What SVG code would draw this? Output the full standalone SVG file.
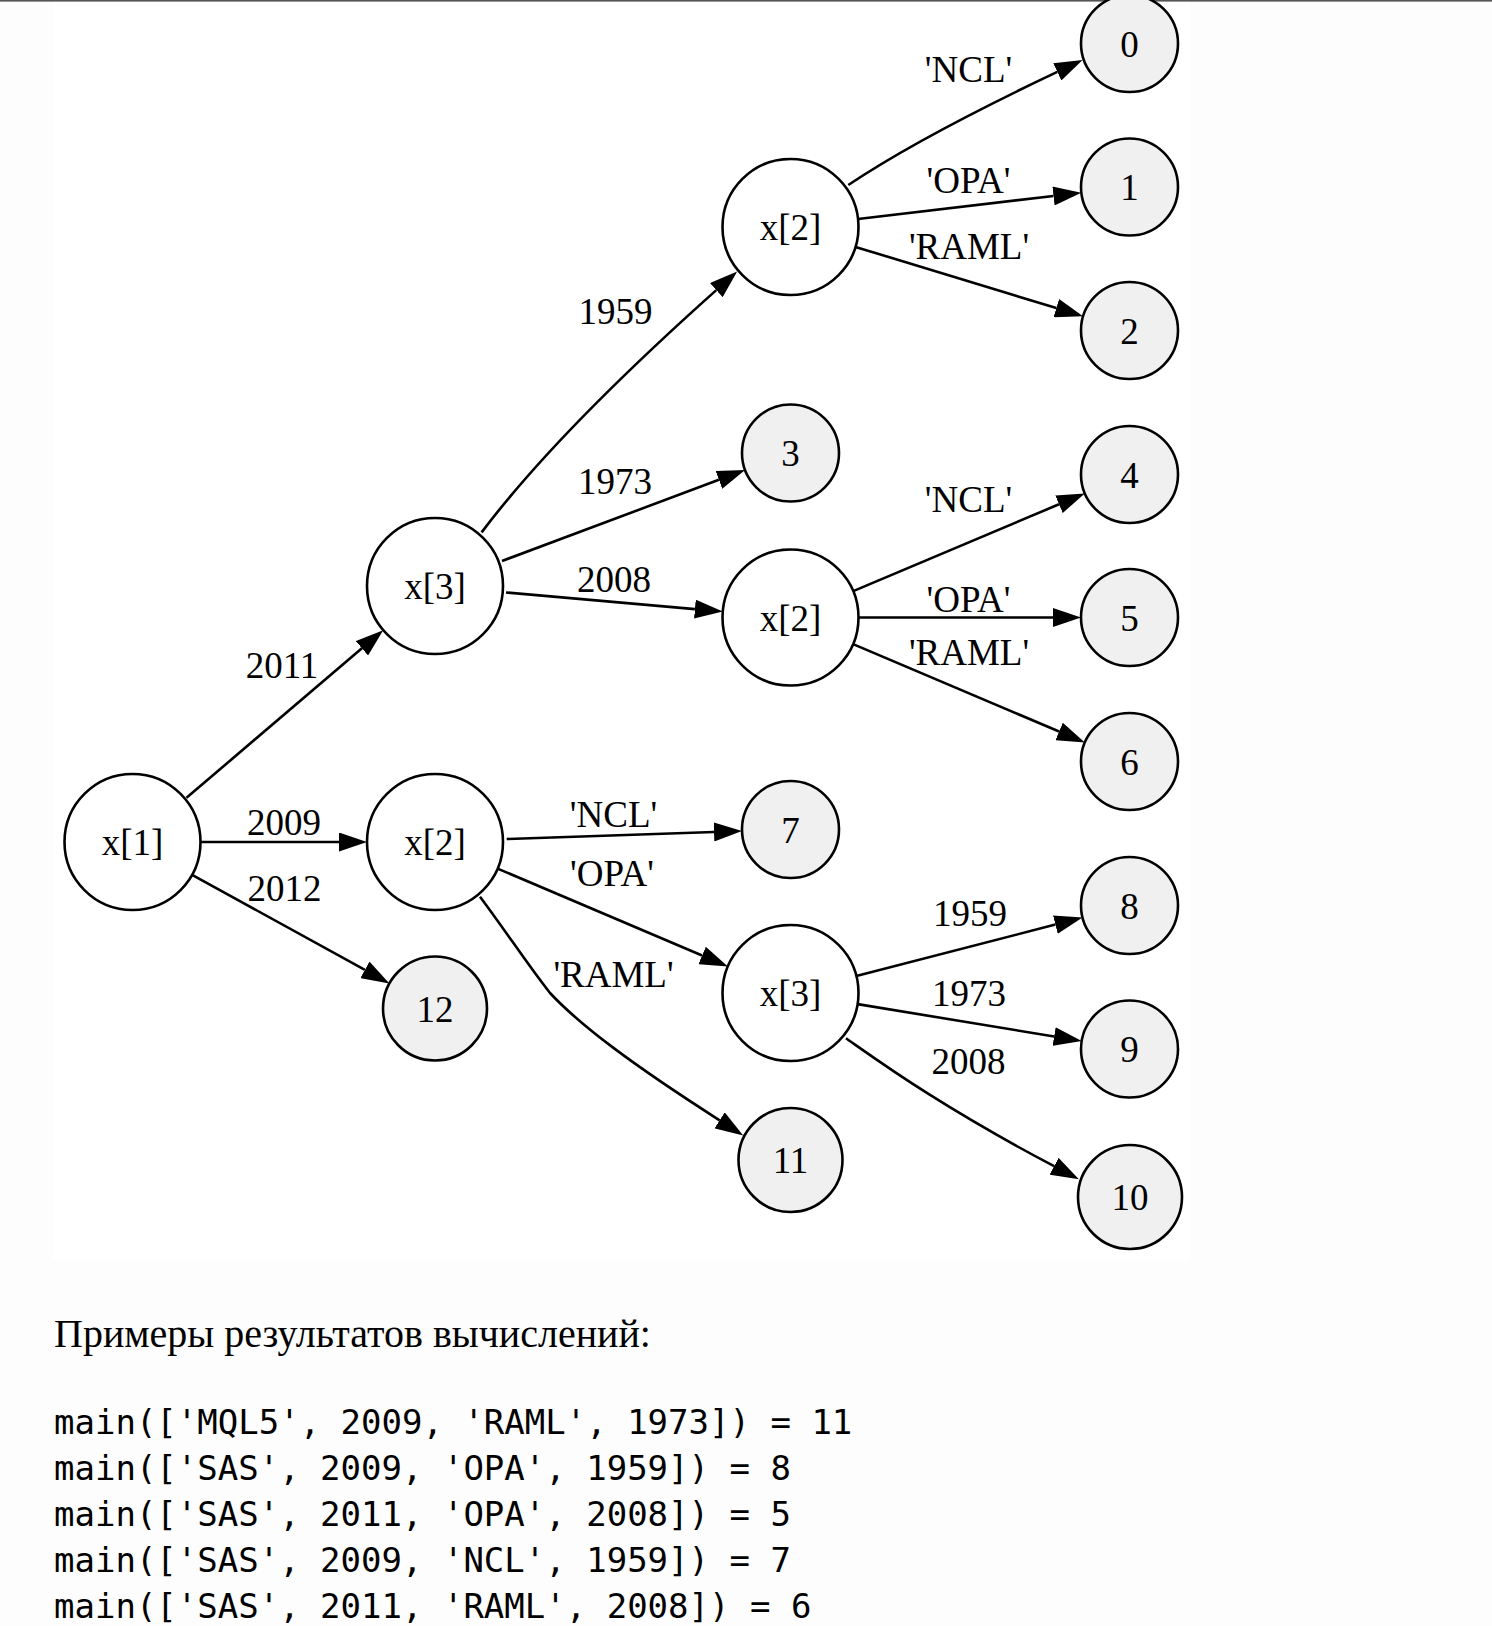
<svg xmlns="http://www.w3.org/2000/svg" width="1492" height="1626" viewBox="0 0 1492 1626">
<defs>
<marker id="arr" markerUnits="userSpaceOnUse" viewBox="0 0 28 19" refX="0" refY="9.5" markerWidth="28" markerHeight="19" orient="auto">
<path d="M0,0 L28,9.5 L0,19 Z" fill="#000"/>
</marker>
</defs>
<style>
.n{stroke:#000;stroke-width:2.6;fill:#fff}
.l{stroke:#000;stroke-width:2.6;fill:#f0f0f0}
.e{stroke:#000;stroke-width:2.6;fill:none;marker-end:url(#arr)}
text{font-family:"Liberation Serif","Times New Roman",serif;font-size:37px;text-anchor:middle;fill:#000}
.p{text-anchor:start;font-size:40px}
.c{font-family:"DejaVu Sans Mono","Liberation Mono",monospace;font-size:34px;text-anchor:start}
</style>
<rect x="0" y="0" width="1492" height="1626" fill="#fdfdfd"/>
<rect x="53" y="0" width="1137" height="1260" fill="#ffffff"/>
<rect x="0" y="0" width="1492" height="1.6" fill="#555"/>

<g id="edges">
<path class="e" d="M186.5,797.8 L361.9,648.3"/>
<path class="e" d="M200.5,842 L339,842"/>
<path class="e" d="M192.1,874.8 L364.9,969.9"/>
<path class="e" d="M481.6,532.4 C530,468 610,385 716.3,290.1"/>
<path class="e" d="M502,561 L718.9,479.8"/>
<path class="e" d="M506,592.5 L694.9,609.1"/>
<path class="e" d="M848.3,185 C890,157 960,118 1057.3,71.9"/>
<path class="e" d="M858,219 L1053.5,196"/>
<path class="e" d="M855.5,246.9 L1056.3,308.1"/>
<path class="e" d="M853.2,591.1 L1059,504.3"/>
<path class="e" d="M858.5,617.5 L1053,617.5"/>
<path class="e" d="M853.1,644.1 L1059.1,731.5"/>
<path class="e" d="M506.7,839 L714,832"/>
<path class="e" d="M497.6,868.6 L702.1,955.5"/>
<path class="e" d="M480,896.7 C505,930 530,968 550,993 C580,1025 630,1063 719.6,1120.3"/>
<path class="e" d="M856.3,976 L1055.4,924.6"/>
<path class="e" d="M857.6,1004.1 L1054.1,1036.5"/>
<path class="e" d="M846,1038.3 C880,1062 940,1106 1054.1,1166.2"/>
<text x="282" y="678">2011</text>
<text x="284" y="835">2009</text>
<text x="284.5" y="901">2012</text>
<text x="615.5" y="324">1959</text>
<text x="615" y="494">1973</text>
<text x="614" y="592">2008</text>
<text x="968.5" y="82">'NCL'</text>
<text x="968.5" y="193">'OPA'</text>
<text x="969" y="259">'RAML'</text>
<text x="968.5" y="511.5">'NCL'</text>
<text x="968.5" y="612">'OPA'</text>
<text x="969" y="664.5">'RAML'</text>
<text x="613.5" y="826.5">'NCL'</text>
<text x="612" y="886">'OPA'</text>
<text x="613.5" y="986.5">'RAML'</text>
<text x="970" y="926">1959</text>
<text x="969" y="1005.5">1973</text>
<text x="968.5" y="1074">2008</text>
</g>

<g id="n_x1"><circle class="n" cx="132.5" cy="842" r="68"/><text x="132.5" y="855">x[1]</text></g>
<g id="n_x3a"><circle class="n" cx="435" cy="586" r="68"/><text x="435" y="599">x[3]</text></g>
<g id="n_x2a"><circle class="n" cx="435" cy="842" r="68"/><text x="435" y="855">x[2]</text></g>
<g id="n_12"><circle class="l" cx="435" cy="1008.5" r="52"/><text x="435" y="1021.5">12</text></g>
<g id="n_x2b"><circle class="n" cx="790.5" cy="227" r="68"/><text x="790.5" y="240">x[2]</text></g>
<g id="n_3"><circle class="l" cx="790.5" cy="453" r="48.5"/><text x="790.5" y="466">3</text></g>
<g id="n_x2c"><circle class="n" cx="790.5" cy="617.5" r="68"/><text x="790.5" y="630.5">x[2]</text></g>
<g id="n_7"><circle class="l" cx="790.5" cy="829.5" r="48.5"/><text x="790.5" y="842.5">7</text></g>
<g id="n_x3b"><circle class="n" cx="790.5" cy="993" r="68"/><text x="790.5" y="1006">x[3]</text></g>
<g id="n_11"><circle class="l" cx="790.5" cy="1160" r="52"/><text x="790.5" y="1173">11</text></g>
<g id="n_0"><circle class="l" cx="1129.5" cy="43.5" r="48.5"/><text x="1129.5" y="56.5">0</text></g>
<g id="n_1"><circle class="l" cx="1129.5" cy="187" r="48.5"/><text x="1129.5" y="200">1</text></g>
<g id="n_2"><circle class="l" cx="1129.5" cy="330.5" r="48.5"/><text x="1129.5" y="343.5">2</text></g>
<g id="n_4"><circle class="l" cx="1129.5" cy="474.5" r="48.5"/><text x="1129.5" y="487.5">4</text></g>
<g id="n_5"><circle class="l" cx="1129.5" cy="617.5" r="48.5"/><text x="1129.5" y="630.5">5</text></g>
<g id="n_6"><circle class="l" cx="1129.5" cy="761.5" r="48.5"/><text x="1129.5" y="774.5">6</text></g>
<g id="n_8"><circle class="l" cx="1129.5" cy="905.5" r="48.5"/><text x="1129.5" y="918.5">8</text></g>
<g id="n_9"><circle class="l" cx="1129.5" cy="1049" r="48.5"/><text x="1129.5" y="1062">9</text></g>
<g id="n_10"><circle class="l" cx="1130" cy="1197" r="52"/><text x="1130" y="1210">10</text></g>

<g id="examples">
<text class="p" x="54" y="1347">Примеры результатов вычислений:</text>
<text class="c" x="54" y="1434">main(['MQL5', 2009, 'RAML', 1973]) = 11</text>
<text class="c" x="54" y="1480">main(['SAS', 2009, 'OPA', 1959]) = 8</text>
<text class="c" x="54" y="1526">main(['SAS', 2011, 'OPA', 2008]) = 5</text>
<text class="c" x="54" y="1572">main(['SAS', 2009, 'NCL', 1959]) = 7</text>
<text class="c" x="54" y="1618">main(['SAS', 2011, 'RAML', 2008]) = 6</text>
</g>
</svg>
